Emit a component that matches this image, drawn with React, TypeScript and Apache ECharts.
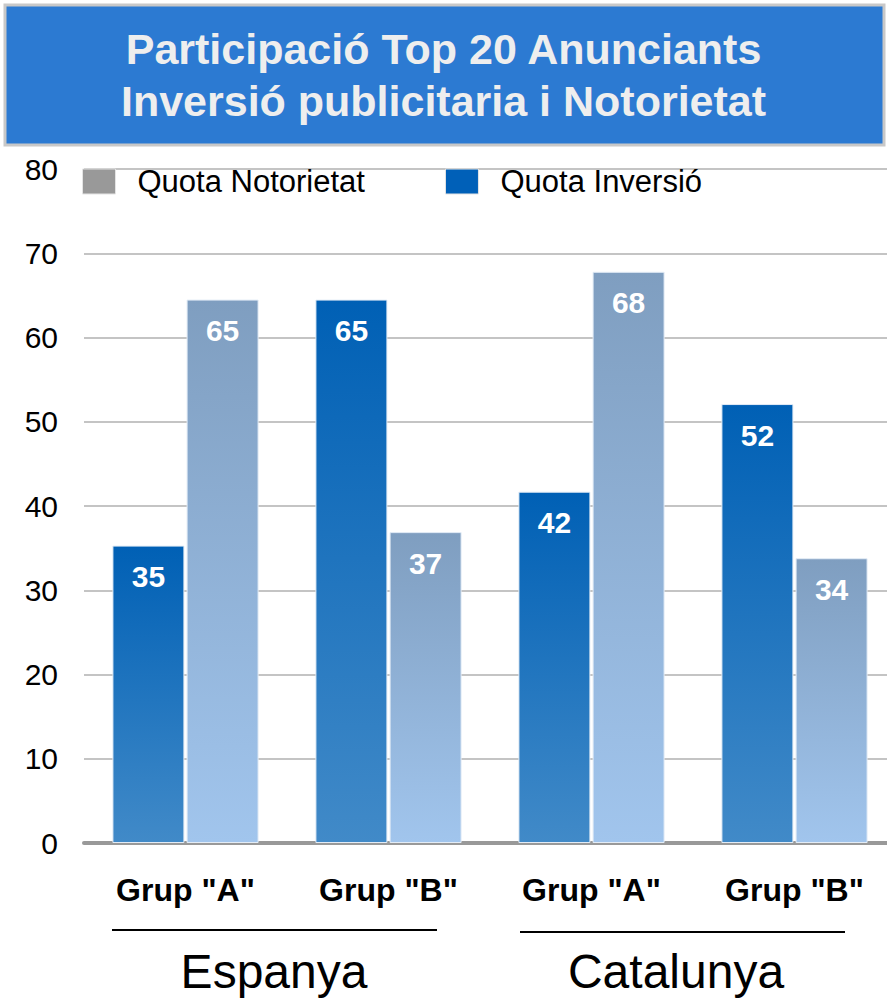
import React, { useEffect, useRef } from "react";
import * as echarts from "echarts";

const categories = ['Grup "A"', 'Grup "B"', 'Grup "A"', 'Grup "B"'];
const regions = ["Espanya", "Catalunya"];
const quotaInversio = [35.3, 64.5, 41.7, 52.1];
const quotaNotorietat = [64.5, 36.9, 67.8, 33.8];
const titleLines = ["Participació Top 20 Anunciants", "Inversió publicitaria i Notorietat"];

const FONT = "'Liberation Sans', Arial, Helvetica, sans-serif";

export default function App() {
  const ref = useRef<HTMLDivElement>(null);
  useEffect(() => {
    if (!ref.current) return;
    const chart = echarts.init(ref.current, null, { renderer: "svg" });
    const grad = (top: string, bottom: string) =>
      new echarts.graphic.LinearGradient(0, 0, 0, 1, [
        { offset: 0, color: top },
        { offset: 1, color: bottom },
      ]);
    const label = {
      show: true,
      position: "insideTop",
      distance: 16,
      color: "#ffffff",
      fontWeight: "bold",
      fontSize: 30,
      fontFamily: FONT,
      formatter: (p: any) => String(Math.round(p.value)),
    };
    chart.setOption({
      animation: false,
      backgroundColor: "#ffffff",
      title: {
        text: titleLines.join("\n"),
        left: "center",
        top: 23,
        padding: 0,
        textStyle: {
          color: "#eeeeee",
          fontSize: 43,
          fontWeight: "bold",
          lineHeight: 52,
          fontFamily: FONT,
        },
      },
      graphic: [
        {
          type: "rect",
          z: -1,
          shape: { x: 5, y: 5, width: 879, height: 140 },
          style: { fill: "#2c7ad2", stroke: "#c8c8c8", lineWidth: 3 },
        },
        {
          type: "line",
          shape: { x1: 112, y1: 930, x2: 437, y2: 930 },
          style: { stroke: "#000", lineWidth: 2 },
        },
        {
          type: "line",
          shape: { x1: 520, y1: 932, x2: 845, y2: 932 },
          style: { stroke: "#000", lineWidth: 2 },
        },
        {
          type: "text",
          x: 274,
          y: 971,
          style: {
            text: regions[0],
            fill: "#000",
            font: `48px ${FONT}`,
            align: "center",
            verticalAlign: "middle",
          },
        },
        {
          type: "text",
          x: 676,
          y: 971,
          style: {
            text: regions[1],
            fill: "#000",
            font: `48px ${FONT}`,
            align: "center",
            verticalAlign: "middle",
          },
        },
      ],
      legend: {
        left: 82,
        top: 166,
        padding: 0,
        itemWidth: 33,
        itemHeight: 25,
        itemGap: 80,
        icon: "rect",
        textStyle: {
          fontSize: 31,
          color: "#000",
          fontFamily: FONT,
          padding: [0, 0, 0, 17],
        },
        data: [
          { name: "Quota Notorietat", itemStyle: { color: "#999999", borderColor: "#e4e4e4", borderWidth: 1 } },
          { name: "Quota Inversió", itemStyle: { color: "#0060b8", borderColor: "#e4e4e4", borderWidth: 1 } },
        ],
      },
      grid: { left: 84, right: -9, top: 169, bottom: 158, outerBoundsMode: "none", containLabel: false },
      xAxis: {
        type: "category",
        data: categories,
        axisTick: { show: false },
        axisLine: { show: true, lineStyle: { color: "#999999", width: 4 } },
        axisLabel: {
          margin: 31,
          color: "#000",
          fontWeight: "bold",
          fontSize: 32,
          fontFamily: FONT,
        },
      },
      yAxis: {
        type: "value",
        min: 0,
        max: 80,
        interval: 10,
        axisLine: { show: false },
        axisTick: { show: false },
        splitLine: { lineStyle: { color: "#c4c4c4", width: 2 } },
        axisLabel: {
          margin: 26,
          color: "#000",
          fontSize: 30,
          fontFamily: FONT,
        },
      },
      series: [
        {
          name: "Quota Inversió",
          type: "bar",
          data: quotaInversio,
          barWidth: 72,
          barGap: "3%",
          itemStyle: { color: grad("#0060b5", "#418ac8"), borderColor: "#e3ecf6", borderWidth: 1 },
          label,
        },
        {
          name: "Quota Notorietat",
          type: "bar",
          data: quotaNotorietat,
          barWidth: 72,
          barGap: "3%",
          itemStyle: { color: grad("#7f9ec0", "#a1c5ed"), borderColor: "#e3ecf6", borderWidth: 1 },
          label,
        },
      ],
    });
    return () => chart.dispose();
  }, []);
  return (
    <div
      ref={ref}
      style={{ position: "absolute", left: 0, top: 0, width: 887, height: 1001 }}
    />
  );
}
